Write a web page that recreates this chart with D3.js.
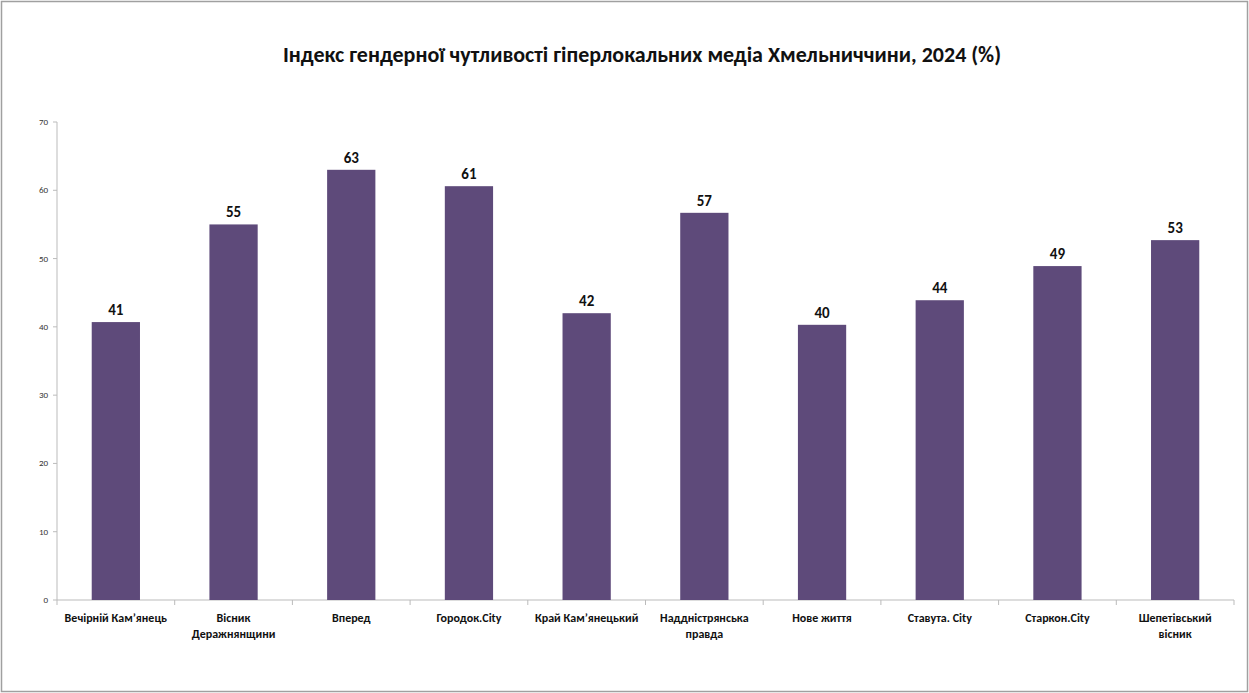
<!DOCTYPE html>
<html>
<head>
<meta charset="utf-8">
<script src="https://d3js.org/d3.v7.min.js"></script>
<style>
  body { margin: 0; background: #fff; }
  svg { font-family: Calibri, Carlito, "Open Sans", sans-serif; }
</style>
</head>
<body>
<div id="chart"></div>
<script>
var categories = ["Вечірній Кам\u2019янець", "Вісник\nДеражнянщини", "Вперед", "Городок.City",
                  "Край Кам\u2019янецький", "Наддністрянська\nправда", "Нове життя", "Ставута. City",
                  "Старкон.City", "Шепетівський\nвісник"];
var values = [40.7, 55, 63, 60.6, 42, 56.7, 40.3, 43.9, 48.9, 52.7];
var yTicks = [0, 10, 20, 30, 40, 50, 60, 70];
var title = "Індекс гендерної чутливості гіперлокальних медіа Хмельниччини, 2024 (%)";

var width = 1249, height = 693;
var svg = d3.select("#chart").append("svg").attr("width", width).attr("height", height);

// frame
svg.append("rect").attr("x", 1.5).attr("y", 1.5).attr("width", width - 3).attr("height", height - 3)
   .attr("fill", "none").attr("stroke", "#a0a0a0").attr("stroke-width", 1.5);

svg.append("text").attr("x", 642).attr("y", 62).attr("text-anchor", "middle")
   .attr("font-size", 22).attr("font-weight", "bold").attr("fill", "#111").text(title);

var x = d3.scaleBand().domain(categories).range([57, 1234]).paddingInner(0.59).paddingOuter(0.295);
var y = d3.scaleLinear().domain([0, 70]).range([600, 122]);

// y axis
svg.append("line").attr("x1", 57).attr("x2", 57).attr("y1", y(70)).attr("y2", y(0)).attr("stroke", "#bbb");
svg.selectAll(".yt").data(yTicks).enter().append("g").each(function(d) {
  var g = d3.select(this);
  g.append("line").attr("x1", 53).attr("x2", 57).attr("y1", y(d)).attr("y2", y(d)).attr("stroke", "#bbb");
  g.append("text").attr("x", 48).attr("y", y(d) + 3).attr("text-anchor", "end")
   .attr("font-size", 9).attr("fill", "#333").text(d);
});

// x axis
svg.append("line").attr("x1", 57).attr("x2", 1234).attr("y1", y(0)).attr("y2", y(0)).attr("stroke", "#bbb");
var step = x.step();
d3.range(categories.length + 1).forEach(function(i) {
  var xx = 57 + i * step;
  svg.append("line").attr("x1", xx).attr("x2", xx).attr("y1", y(0)).attr("y2", y(0) + 5).attr("stroke", "#bbb");
});

svg.selectAll(".bar").data(values).enter().append("rect")
  .attr("x", function(d, i) { return x(categories[i]); })
  .attr("y", function(d) { return y(d); })
  .attr("width", x.bandwidth())
  .attr("height", function(d) { return y(0) - y(d); })
  .attr("fill", "#5e4a7a");

svg.selectAll(".lbl").data(values).enter().append("text")
  .attr("x", function(d, i) { return x(categories[i]) + x.bandwidth() / 2; })
  .attr("y", function(d) { return y(d) - 7; })
  .attr("text-anchor", "middle").attr("font-size", 15).attr("font-weight", "bold").attr("fill", "#111")
  .text(function(d) { return Math.round(d); });

categories.forEach(function(c, i) {
  var t = svg.append("text").attr("x", x(c) + x.bandwidth() / 2).attr("y", 622)
    .attr("text-anchor", "middle").attr("font-size", 12).attr("font-weight", "bold").attr("fill", "#111");
  c.split("\n").forEach(function(line, j) {
    t.append("tspan").attr("x", x(c) + x.bandwidth() / 2).attr("dy", j ? 16 : 0).text(line);
  });
});
</script>
</body>
</html>
